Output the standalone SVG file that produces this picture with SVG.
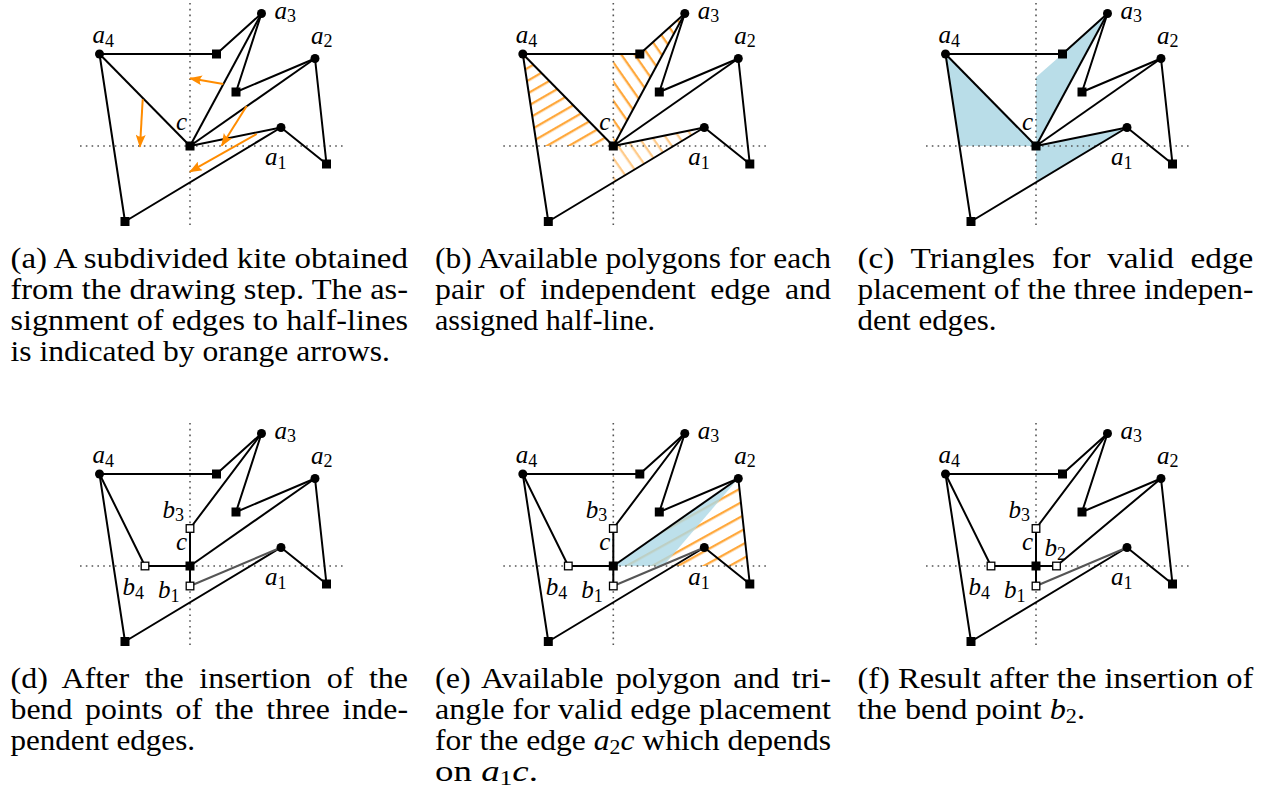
<svg xmlns="http://www.w3.org/2000/svg" xmlns:xlink="http://www.w3.org/1999/xlink" width="1277" height="807" viewBox="0 0 1277 807">
<style>
.ax{stroke:#555;stroke-width:1.6;stroke-dasharray:1.6 4.2;fill:none}
.e{stroke:#000;stroke-width:2;fill:none;stroke-linejoin:round}
.g{stroke:#555;stroke-width:2;fill:none}
.arr{stroke:#ff8c00;stroke-width:2;fill:none}
.lb{font-family:'Liberation Serif','DejaVu Serif',serif;font-style:italic;font-size:25px;fill:#000}
.sb{font-style:normal;font-size:18px}
.cap{font-family:'Liberation Serif','DejaVu Serif',serif;font-size:29px;fill:#000}
.mi{font-style:italic}
.cs{font-size:20px}
.blue{fill:#b9dde8}
.hs{fill:#fff;stroke:#000;stroke-width:1.3}
</style>
<defs>
<marker id="ah" viewBox="0 0 13 10" refX="12" refY="5" markerWidth="13" markerHeight="10" markerUnits="userSpaceOnUse" orient="auto">
<path d="M0,0 Q4,5 0,10 L13,5 Z" fill="#ff8c00"/>
</marker>
<pattern id="hA" width="10" height="11" patternUnits="userSpaceOnUse" patternTransform="rotate(-30)"><rect width="10" height="2.3" fill="#ffa83c"/></pattern>
<pattern id="hB" width="10" height="11" patternUnits="userSpaceOnUse" patternTransform="rotate(55)"><rect width="10" height="2.3" fill="#ffa83c"/></pattern>
<pattern id="hE" width="10" height="12.5" patternUnits="userSpaceOnUse" patternTransform="rotate(-29)"><rect width="10" height="2.3" fill="#ffa83c"/></pattern>
<g id="axes">
<line class="ax" x1="80" y1="146" x2="343" y2="146"/>
<line class="ax" x1="190" y1="3" x2="190" y2="229"/>
</g>
<g id="outer">
<polyline class="e" points="99.5,54 216.5,54 261.5,13.5"/>
<polyline class="e" points="261.5,13.5 236,92 315,58.5"/>
<polyline class="e" points="315,58.5 326.5,164 281,127.5"/>
<polyline class="e" points="281,127.5 125,221.5 99.5,54"/>
</g>
<g id="dots">
<circle cx="99.5" cy="54" r="4.5"/>
<circle cx="261.5" cy="13.5" r="4.5"/>
<circle cx="315" cy="58.5" r="4.5"/>
<circle cx="281" cy="127.5" r="4.5"/>
<rect x="212" y="49.5" width="9" height="9"/>
<rect x="231.5" y="87.5" width="9" height="9"/>
<rect x="322" y="159.5" width="9" height="9"/>
<rect x="120.5" y="217" width="9" height="9"/>
</g>
<g id="cnode"><rect x="185.5" y="141.5" width="9" height="9"/></g>
<g id="alabels">
<text class="lb" x="92.5" y="43">a<tspan class="sb" dy="4">4</tspan></text>
<text class="lb" x="274.5" y="18.5">a<tspan class="sb" dy="3.5">3</tspan></text>
<text class="lb" x="311" y="43.5">a<tspan class="sb" dy="3.5">2</tspan></text>
<text class="lb" x="176" y="130">c</text>
<text class="lb" x="265" y="165">a<tspan class="sb" dy="3.5">1</tspan></text>
</g>
<g id="spokesABC">
<line class="e" x1="99.5" y1="54" x2="190" y2="146"/>
<line class="e" x1="261.5" y1="13.5" x2="190" y2="146"/>
<line class="e" x1="315" y1="58.5" x2="190" y2="146"/>
<line class="e" x1="281" y1="127.5" x2="190" y2="146"/>
</g>
<g id="spokesD">
<polyline class="e" points="99.5,54 145,146 190,146"/>
<polyline class="e" points="261.5,13.5 190,108.5 190,146"/>
<line class="g" x1="281" y1="127.5" x2="190" y2="166"/>
<line class="e" x1="190" y1="166" x2="190" y2="146"/>
</g>
<g id="bnodes">
<rect class="hs" x="186.2" y="104.7" width="7.6" height="7.6"/>
<rect class="hs" x="141.2" y="142.2" width="7.6" height="7.6"/>
<rect class="hs" x="186.2" y="162.2" width="7.6" height="7.6"/>
<text class="lb" x="162.5" y="97.5">b<tspan class="sb" dy="3.5">3</tspan></text>
<text class="lb" x="122.5" y="175">b<tspan class="sb" dy="3.5">4</tspan></text>
<text class="lb" x="158" y="178">b<tspan class="sb" dy="3.5">1</tspan></text>
</g>
</defs>

<!-- (a) -->
<g id="panel-a">
<use xlink:href="#axes"/>
<use xlink:href="#outer"/>
<use xlink:href="#spokesABC"/>
<g id="assign-arrows">
<line class="arr" x1="223.3" y1="84" x2="190" y2="78.3" marker-end="url(#ah)"/>
<line class="arr" x1="142.7" y1="99.3" x2="140" y2="146.7" marker-end="url(#ah)"/>
<line class="arr" x1="246.7" y1="106" x2="221.7" y2="145.7" marker-end="url(#ah)"/>
<line class="arr" x1="256.7" y1="134" x2="190" y2="171.7" marker-end="url(#ah)"/>
</g>
<use xlink:href="#dots"/>
<use xlink:href="#cnode"/>
<use xlink:href="#alabels"/>
</g>

<!-- (b) -->
<g id="panel-b" transform="translate(423.3,0)">
<polygon points="99.5,54 190,146 113.4,146" fill="url(#hA)"/>
<polygon points="190,146 190,54 216.5,54 261.5,13.5" fill="url(#hB)"/>
<polygon points="190,146 281,127.5 190,182.5" fill="url(#hB)" opacity="0.6"/>
<use xlink:href="#axes"/>
<use xlink:href="#outer"/>
<use xlink:href="#spokesABC"/>
<use xlink:href="#dots"/>
<use xlink:href="#cnode"/>
<use xlink:href="#alabels"/>
</g>

<!-- (c) -->
<g id="panel-c" transform="translate(846,0)">
<polygon class="blue" points="99.5,54 190,146 113.4,146"/>
<polygon class="blue" points="190,146 190,77.3 216.5,54 261.5,13.5"/>
<polygon class="blue" points="190,146 281,127.5 190,182.5"/>
<use xlink:href="#axes"/>
<use xlink:href="#outer"/>
<use xlink:href="#spokesABC"/>
<use xlink:href="#dots"/>
<use xlink:href="#cnode"/>
<use xlink:href="#alabels"/>
</g>

<!-- (d) -->
<g id="panel-d" transform="translate(0,420)">
<use xlink:href="#axes"/>
<use xlink:href="#outer"/>
<use xlink:href="#spokesD"/>
<line class="e" x1="315" y1="58.5" x2="190" y2="146"/>
<use xlink:href="#dots"/>
<use xlink:href="#cnode"/>
<use xlink:href="#bnodes"/>
<use xlink:href="#alabels"/>
</g>

<!-- (e) -->
<g id="panel-e" transform="translate(423.3,420)">
<polygon points="190,146 315,58.5 324.7,146" fill="url(#hE)"/>
<polygon points="190,146 315,58.5 240,146" fill="#add8e6" opacity="0.8"/>
<use xlink:href="#axes"/>
<use xlink:href="#outer"/>
<use xlink:href="#spokesD"/>
<line class="e" x1="315" y1="58.5" x2="190" y2="146"/>
<use xlink:href="#dots"/>
<use xlink:href="#cnode"/>
<use xlink:href="#bnodes"/>
<use xlink:href="#alabels"/>
</g>

<!-- (f) -->
<g id="panel-f" transform="translate(846,420)">
<use xlink:href="#axes"/>
<use xlink:href="#outer"/>
<use xlink:href="#spokesD"/>
<polyline class="e" points="315,58.5 210.5,146 190,146"/>
<use xlink:href="#dots"/>
<use xlink:href="#cnode"/>
<use xlink:href="#bnodes"/>
<rect class="hs" x="206.7" y="142.2" width="7.6" height="7.6"/>
<text class="lb" x="198.5" y="136">b<tspan class="sb" dy="3.5">2</tspan></text>
<use xlink:href="#alabels"/>
</g>

<!-- captions -->
<g id="captions">
<text class="cap" x="10.5" y="267.5" textLength="397.5" lengthAdjust="spacingAndGlyphs">(a) A subdivided kite obtained</text>
<text class="cap" x="10.5" y="298.7" textLength="397.5" lengthAdjust="spacingAndGlyphs">from the drawing step. The as-</text>
<text class="cap" x="10.5" y="329.9" textLength="397.5" lengthAdjust="spacingAndGlyphs">signment of edges to half-lines</text>
<text class="cap" x="10.5" y="361.1" textLength="379.5" lengthAdjust="spacingAndGlyphs">is indicated by orange arrows.</text>

<text class="cap" x="435" y="267.5" textLength="396" lengthAdjust="spacingAndGlyphs">(b) Available polygons for each</text>
<text class="cap" x="435" y="298.7" textLength="396" lengthAdjust="spacingAndGlyphs" word-spacing="6.1">pair of independent edge and</text>
<text class="cap" x="435" y="329.9" textLength="220" lengthAdjust="spacingAndGlyphs">assigned half-line.</text>

<text class="cap" x="857.5" y="267.5" textLength="395.8" lengthAdjust="spacingAndGlyphs" word-spacing="7.3">(c) Triangles for valid edge</text>
<text class="cap" x="857.5" y="298.7" textLength="395.8" lengthAdjust="spacingAndGlyphs">placement of the three indepen-</text>
<text class="cap" x="857.5" y="329.9" textLength="139" lengthAdjust="spacingAndGlyphs">dent edges.</text>

<text class="cap" x="10.5" y="687.5" textLength="397.5" lengthAdjust="spacingAndGlyphs" word-spacing="6.9">(d) After the insertion of the</text>
<text class="cap" x="10.5" y="718.7" textLength="397.5" lengthAdjust="spacingAndGlyphs" word-spacing="4.3">bend points of the three inde-</text>
<text class="cap" x="10.5" y="749.9" textLength="184.5" lengthAdjust="spacingAndGlyphs">pendent edges.</text>

<text class="cap" x="435" y="687.5" textLength="396" lengthAdjust="spacingAndGlyphs" word-spacing="3.7">(e) Available polygon and tri-</text>
<text class="cap" x="435" y="718.7" textLength="396" lengthAdjust="spacingAndGlyphs">angle for valid edge placement</text>
<text class="cap" x="435" y="749.9" textLength="396" lengthAdjust="spacingAndGlyphs">for the edge <tspan class="mi">a</tspan><tspan class="cs" dy="4">2</tspan><tspan class="mi" dy="-4">c</tspan> which depends</text>
<text class="cap" x="435" y="781.1" textLength="103" lengthAdjust="spacingAndGlyphs">on <tspan class="mi">a</tspan><tspan class="cs" dy="4">1</tspan><tspan class="mi" dy="-4">c</tspan>.</text>

<text class="cap" x="857.5" y="687.5" textLength="395.8" lengthAdjust="spacingAndGlyphs">(f) Result after the insertion of</text>
<text class="cap" x="857.5" y="718.7" textLength="227.5" lengthAdjust="spacingAndGlyphs">the bend point <tspan class="mi">b</tspan><tspan class="cs" dy="4">2</tspan><tspan dy="-4">.</tspan></text>
</g>
</svg>
